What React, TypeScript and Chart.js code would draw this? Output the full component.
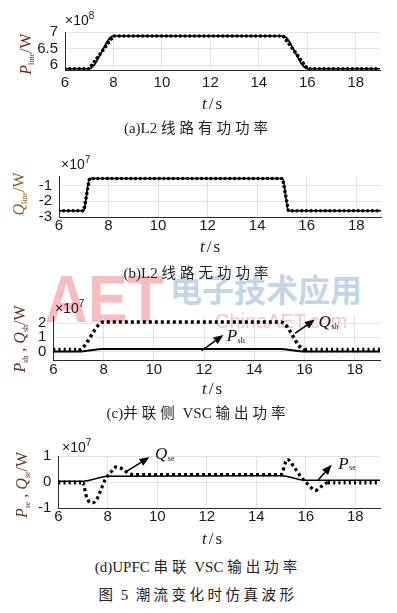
import React, { useEffect, useRef } from "react";
import { Chart, registerables } from "chart.js";
Chart.register(...registerables);
Chart.defaults.font.family = '"Liberation Sans", Arial, sans-serif';

// ---------- data (values in units of the axis exponent) ----------
const xTicks = [6, 8, 10, 12, 14, 16, 18];

// (a) L2 active power, x1e8 W
const tA = [6, 7, 8, 15, 16, 19];
const pLine = [5.89, 5.89, 6.88, 6.88, 5.89, 5.89];
const yTicksA = [6, 6.5, 7];

// (b) L2 reactive power, x1e7 W
const tB = [6, 7, 7.23, 15.03, 15.26, 19];
const qLine = [-2.59, -2.59, -0.57, -0.57, -2.59, -2.59];
const yTicksB = [-3, -2, -1];

// (c) shunt VSC output, x1e7 W
const tCq = [6, 7, 8, 15.05, 16.02, 19];
const qSh = [0.1, 0.1, 2.08, 2.08, 0.1, 0.1];
const tCp = [6, 7, 8, 15, 16, 19];
const pSh = [0, 0, 0.18, 0.18, 0, 0];
const yTicksC = [0, 1, 2];

// (d) UPFC series VSC output, x1e7 W
const tDq = [6, 7, 7.05, 7.15, 7.35, 7.5, 7.7, 7.9, 8.1, 8.35, 8.6, 8.85, 9.1, 15, 15.25, 15.55, 15.8, 16, 16.4, 16.7, 16.9, 19];
const qSe = [-0.02, -0.02, -0.2, -0.6, -0.8, -0.75, -0.35, 0.1, 0.35, 0.58, 0.5, 0.33, 0.28, 0.28, 0.87, 0.55, 0.2, 0, -0.32, -0.12, -0.02, -0.02];
const tDp = [6, 7, 8, 15, 16, 19];
const pSe = [0.03, 0.03, 0.22, 0.24, 0.07, 0.07];
const yTicksD = [-1, 0, 1];

// arrow annotations (data coordinates) and labels
const arrowsC = [
  { from: [11.9, 0.06], to: [12.77, 1.16] },
  { from: [15.62, 1.27], to: [16.41, 2.26] },
];
const labelsC = [
  { at: [12.9, 1.05], main: "P", sub: "sh" },
  { at: [16.55, 2.04], main: "Q", sub: "sh" },
];
const arrowsD = [
  { from: [8.69, 0.37], to: [9.69, 0.96] },
  { from: [16.5, 0.08], to: [17.05, 0.66] },
];
const labelsD = [
  { at: [9.91, 1.06], main: "Q", sub: "se" },
  { at: [17.31, 0.69], main: "P", sub: "se" },
];

// ---------- styling ----------
const gridColor = "#e3e3e3";
const axisColor = "#2b2b2b";
const tickFont = { family: '"Liberation Sans", Arial, sans-serif', size: 15 };

const arrowPlugin = {
  id: "arrows",
  afterDatasetsDraw(chart: any, _args: any, opts: any) {
    const ctx = chart.ctx;
    const xs = chart.scales.x;
    const ys = chart.scales.y;
    ctx.save();
    (opts.arrows || []).forEach((a: any) => {
      const x1 = xs.getPixelForValue(a.from[0]);
      const y1 = ys.getPixelForValue(a.from[1]);
      const x2 = xs.getPixelForValue(a.to[0]);
      const y2 = ys.getPixelForValue(a.to[1]);
      const ang = Math.atan2(y2 - y1, x2 - x1);
      const hl = 10, hw = 4;
      const bx = x2 - hl * Math.cos(ang);
      const by = y2 - hl * Math.sin(ang);
      ctx.strokeStyle = "#000";
      ctx.lineWidth = 1.5;
      ctx.beginPath();
      ctx.moveTo(x1, y1);
      ctx.lineTo(bx, by);
      ctx.stroke();
      ctx.fillStyle = "#000";
      ctx.beginPath();
      ctx.moveTo(x2, y2);
      ctx.lineTo(bx + hw * Math.sin(ang), by - hw * Math.cos(ang));
      ctx.lineTo(bx - hw * Math.sin(ang), by + hw * Math.cos(ang));
      ctx.closePath();
      ctx.fill();
    });
    (opts.labels || []).forEach((l: any) => {
      const x = xs.getPixelForValue(l.at[0]);
      const y = ys.getPixelForValue(l.at[1]);
      ctx.fillStyle = "#111";
      ctx.textBaseline = "middle";
      ctx.textAlign = "left";
      ctx.font = 'italic 17px "Liberation Serif", serif';
      ctx.fillText(l.main, x, y);
      const w = ctx.measureText(l.main).width;
      ctx.font = '8px "Liberation Serif", serif';
      ctx.fillText(l.sub, x + w + 0.5, y + 4);
    });
    ctx.restore();
  },
};

function pts(t: number[], v: number[]) {
  return t.map((x, i) => ({ x, y: v[i] }));
}

type PanelCfg = {
  top: number;
  height: number;
  plotTop: number;
  plotBottom: number;
  plotLeft: number;
  plotRight: number;
  yMin: number;
  yMax: number;
  yTicks: number[];
  xPad: number;
  datasets: any[];
  arrows?: any[];
  labels?: any[];
};

function Panel({ cfg }: { cfg: PanelCfg }) {
  const ref = useRef<HTMLCanvasElement>(null);
  useEffect(() => {
    if (!ref.current) return;
    const padTop = cfg.plotTop - cfg.top;
    const xh = cfg.height - (cfg.plotBottom - cfg.top);
    const chart = new Chart(ref.current, {
      type: "line",
      data: { datasets: cfg.datasets },
      plugins: [arrowPlugin as any],
      options: {
        animation: false,
        responsive: false,
        events: [],
        layout: { padding: { top: padTop, right: 397 - cfg.plotRight, left: 0, bottom: 0 } },
        elements: { point: { radius: 0 } },
        plugins: {
          legend: { display: false },
          tooltip: { enabled: false },
          arrows: { arrows: cfg.arrows || [], labels: cfg.labels || [] },
        } as any,
        scales: {
          x: {
            type: "linear",
            min: 6,
            max: 19,
            afterBuildTicks: (s: any) => {
              s.ticks = xTicks.map((v) => ({ value: v }));
            },
            afterFit: (s: any) => {
              s.height = xh;
            },
            grid: { color: gridColor, drawTicks: false, lineWidth: 1 },
            border: { display: true, color: axisColor, width: 1 },
            ticks: {
              font: tickFont, color: "#1a1a1a", padding: cfg.xPad, maxRotation: 0, autoSkip: false,
              callback: (v: any) => String(v),
            },
          },
          y: {
            type: "linear",
            min: cfg.yMin,
            max: cfg.yMax,
            afterBuildTicks: (s: any) => {
              s.ticks = cfg.yTicks.map((v) => ({ value: v }));
            },
            afterFit: (s: any) => {
              s.width = cfg.plotLeft;
            },
            grid: { color: gridColor, drawTicks: false, lineWidth: 1 },
            border: { display: true, color: axisColor, width: 1 },
            ticks: {
              font: tickFont, color: "#1a1a1a", padding: 7, autoSkip: false,
              callback: (v: any) => String(v),
            },
          },
        },
      } as any,
    });
    return () => chart.destroy();
  }, []);
  return (
    <canvas
      ref={ref}
      width={397}
      height={cfg.height}
      style={{ position: "absolute", left: 0, top: cfg.top, width: 397, height: cfg.height }}
    />
  );
}

const solid = (data: any, w = 2) => ({
  data,
  borderColor: "#000",
  borderWidth: w,
  pointRadius: 0,
  fill: false,
  cubicInterpolationMode: "monotone",
});
const beaded = (data: any) => ({
  data,
  borderColor: "#000",
  borderWidth: 3.6,
  borderDash: [0.01, 4.7],
  borderCapStyle: "round",
  pointRadius: 0,
  fill: false,
});
const dotted = (data: any, w: number, flatW: number) => ({
  data,
  borderColor: "#000",
  borderWidth: w,
  borderDash: [3, 3],
  pointRadius: 0,
  fill: false,
  cubicInterpolationMode: "monotone",
  segment: {
    borderWidth: (c: any) => (Math.abs(c.p0.parsed.y - c.p1.parsed.y) < 0.01 && Math.abs(c.p0.parsed.y) < 0.2 ? flatW : w),
    borderDash: (c: any) => (Math.abs(c.p0.parsed.y - c.p1.parsed.y) < 0.01 && Math.abs(c.p0.parsed.y) < 0.2 ? [2, 3.2] : [3, 3]),
  },
});

const panels: PanelCfg[] = [
  {
    top: 16, height: 80, plotTop: 26.5, plotBottom: 70.5, plotLeft: 65, plotRight: 380,
    yMin: 5.835, yMax: 7, yTicks: yTicksA, xPad: 3,
    datasets: [solid(pts(tA, pLine), 1.6), beaded(pts(tA, pLine))],
  },
  {
    top: 160, height: 75, plotTop: 170.7, plotBottom: 217.3, plotLeft: 59, plotRight: 381,
    yMin: -3, yMax: -0.41, yTicks: yTicksB, xPad: 0,
    datasets: [solid(pts(tB, qLine), 1.6), beaded(pts(tB, qLine))],
  },
  {
    top: 300, height: 80, plotTop: 313, plotBottom: 360, plotLeft: 53.3, plotRight: 380,
    yMin: -0.6, yMax: 2.5, yTicks: yTicksC, xPad: 1,
    datasets: [solid(pts(tCp, pSh), 2), dotted(pts(tCq, qSh), 3.5, 4.6)],
    arrows: arrowsC, labels: labelsC,
  },
  {
    top: 440, height: 90, plotTop: 455, plotBottom: 508, plotLeft: 58.3, plotRight: 380,
    yMin: -1, yMax: 1, yTicks: yTicksD, xPad: 0,
    datasets: [solid(pts(tDp, pSe), 1.6), dotted(pts(tDq, qSe), 3.2, 4.2)],
    arrows: arrowsD, labels: labelsD,
  },
];

const serif = '"Liberation Serif", "Times New Roman", "Noto Sans CJK SC", serif';
const cjkFont = '"Noto Sans CJK SC", sans-serif';

function Center({ x, y, children, style }: any) {
  return (
    <div
      style={{
        position: "absolute", left: x, top: y, transform: "translate(-50%, -50%)",
        whiteSpace: "nowrap", lineHeight: 1, ...style,
      }}
    >
      {children}
    </div>
  );
}

function YTitle({ x, y, color, parts }: any) {
  return (
    <div
      style={{
        position: "absolute", left: x, top: y, transform: "translate(-50%, -50%) rotate(-90deg)",
        whiteSpace: "nowrap", lineHeight: 1, fontFamily: serif, fontSize: 16, color,
      }}
    >
      {parts.map((p: any, i: number) => (
        <span key={i}>
          <i>{p[0]}</i>
          <span style={{ fontSize: 8, verticalAlign: -3 }}>{p[1]}</span>
          {p[2]}
        </span>
      ))}
    </div>
  );
}

function Exp({ x, y, e }: any) {
  return (
    <div
      style={{
        position: "absolute", left: x, top: y - 7, whiteSpace: "nowrap", lineHeight: 1,
        fontFamily: '"Liberation Sans", Arial, sans-serif', fontSize: 14, color: "#1a1a1a",
      }}
    >
      ×10<span style={{ fontSize: 10, verticalAlign: 6 }}>{e}</span>
    </div>
  );
}

function TS({ x, y }: any) {
  return (
    <Center x={x} y={y} style={{ fontFamily: serif, fontSize: 17, color: "#1a1a1a", letterSpacing: 2 }}>
      <i>t</i>/s
    </Center>
  );
}

function Caption({ y, latin, cjk, rest, spacing = 4 }: any) {
  return (
    <Center x={198} y={y} style={{ fontFamily: serif, fontSize: 15, color: "#222" }}>
      {latin}
      <span style={{ letterSpacing: spacing, fontFamily: cjkFont, fontSize: 14.5 }}>{cjk}</span>
      {rest}
    </Center>
  );
}

export default function App() {
  return (
    <div style={{ position: "absolute", left: 0, top: 0, width: 397, height: 613, background: "#fff", overflow: "hidden" }}>
      {/* watermark */}
      <div
        style={{
          position: "absolute", left: 45, top: 266, fontFamily: '"Liberation Sans", Arial, sans-serif',
          fontWeight: 700, fontSize: 66, lineHeight: 1, color: "#f7bcc0", transform: "scaleX(0.9)",
          transformOrigin: "left top", whiteSpace: "nowrap",
        }}
      >
        AET
      </div>
      <div
        style={{
          position: "absolute", left: 170, top: 272, fontFamily: cjkFont,
          fontWeight: 700, fontSize: 32, lineHeight: 1, color: "#c3d5e6", whiteSpace: "nowrap",
        }}
      >
        电子技术应用
      </div>
      <div
        style={{
          position: "absolute", left: 215, top: 311, fontFamily: '"Liberation Sans", Arial, sans-serif',
          fontSize: 20, lineHeight: 1, color: "#f8c6ca", whiteSpace: "nowrap",
        }}
      >
        ChinaAET.com
      </div>

      {panels.map((p, i) => (
        <Panel key={i} cfg={p} />
      ))}

      <YTitle x={27} y={53.5} color="#6a2c22" parts={[["P", "line", "/W"]]} />
      <YTitle x={20} y={194} color="#8e5a1e" parts={[["Q", "line", "/W"]]} />
      <YTitle x={21} y={339} color="#5e2a22" parts={[["P", "sh", " , "], ["Q", "sh", "/W"]]} />
      <YTitle x={23} y={484.5} color="#6a3320" parts={[["P", "se", " , "], ["Q", "se", "/W"]]} />

      <Exp x={65} y={18} e="8" />
      <Exp x={61} y={162} e="7" />
      <Exp x={55} y={306} e="7" />
      <Exp x={62} y={445} e="7" />

      <TS x={213} y={103} />
      <TS x={211} y={246} />
      <TS x={213} y={388} />
      <TS x={213} y={538} />

      <Caption y={127.7} latin="(a)L2 " cjk="线路有功功率" />
      <Caption y={273} latin="(b)L2 " cjk="线路无功功率" />
      <Caption y={413.3} latin="(c)" cjk="并联侧" rest={<><span> VSC </span><span style={{ letterSpacing: 4, fontFamily: cjkFont, fontSize: 14.5 }}>输出功率</span></>} />
      <Caption y={566.7} latin="(d)UPFC " cjk="串联" rest={<><span> VSC </span><span style={{ letterSpacing: 4, fontFamily: cjkFont, fontSize: 14.5 }}>输出功率</span></>} />
      <Caption y={595} latin="" cjk="图" rest={<><span> 5 &nbsp;</span><span style={{ letterSpacing: 3.5, fontFamily: cjkFont, fontSize: 14.5 }}>潮流变化时仿真波形</span></>} />
    </div>
  );
}
